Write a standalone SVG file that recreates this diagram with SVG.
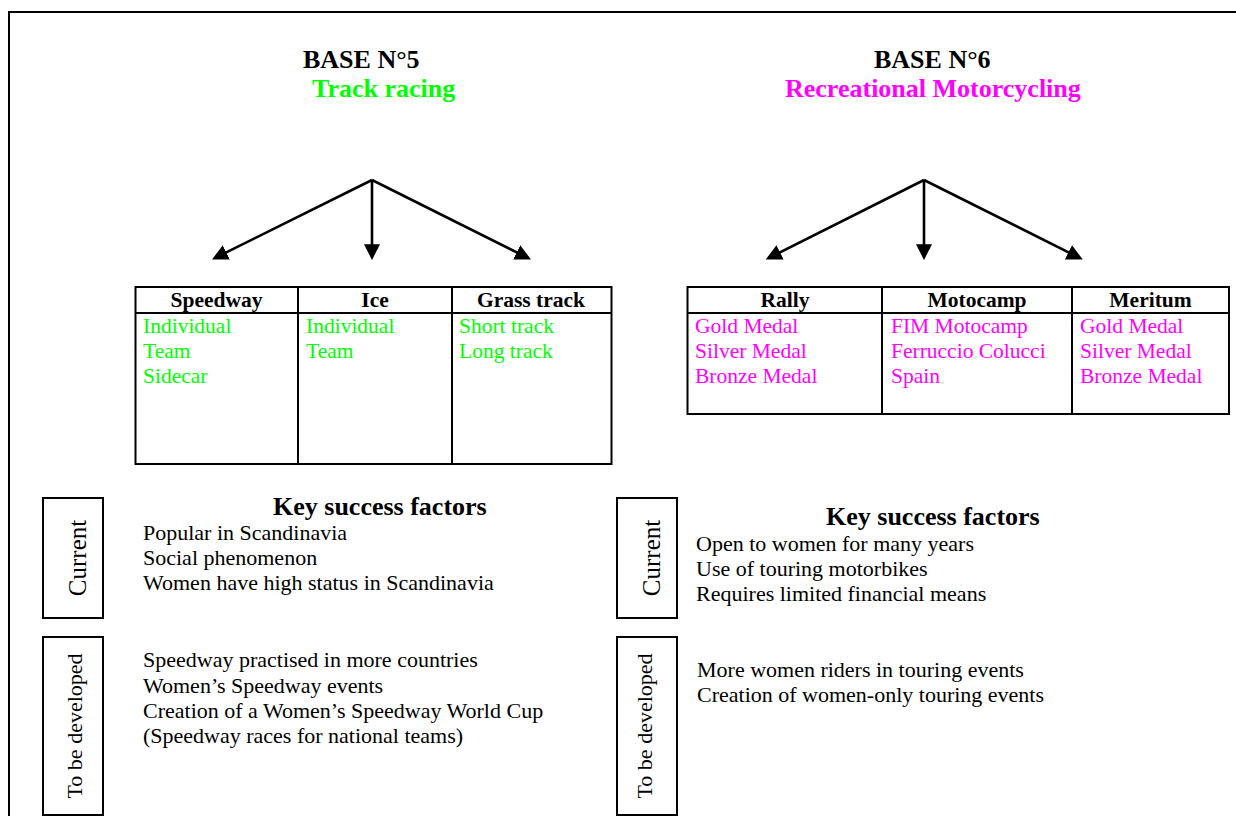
<svg xmlns="http://www.w3.org/2000/svg" width="1236" height="816" viewBox="0 0 1236 816">
<style>
text{font-family:"Liberation Serif","Times New Roman",serif;fill:#000}
.title{font-size:26px;font-weight:bold}
.hd{font-size:21.5px;font-weight:bold;text-anchor:middle}
.g{fill:#00ff00}
.m{fill:#ff00ff}
.cell{font-size:21.5px}
.ksf{font-size:26px;font-weight:bold}
.body{font-size:22px}
.box{fill:none;stroke:#000;stroke-width:2}
.tbl{fill:none;stroke:#000;stroke-width:2}
.arr{stroke:#000;stroke-width:2.6;fill:none;marker-end:url(#ah)}
</style>
<defs>
<marker id="ah" markerUnits="userSpaceOnUse" markerWidth="16" markerHeight="16" refX="6" refY="7" orient="auto" viewBox="0 0 14 14">
<path d="M0,0 L14,7 L0,14 z" fill="#000"/>
</marker>
</defs>
<rect x="9" y="12" width="1240" height="820" fill="none" stroke="#000" stroke-width="2"/>

<g id="base5-title">
<text class="title" x="303" y="68">BASE N°5</text>
<text class="title g" x="312" y="97">Track racing</text>
</g>
<g id="base6-title">
<text class="title" x="874" y="68">BASE N°6</text>
<text class="title m" x="785" y="97">Recreational Motorcycling</text>
</g>

<g id="connectors">
<line class="arr" x1="372" y1="180" x2="220.2" y2="255.4"/>
<line class="arr" x1="372" y1="180" x2="372" y2="251"/>
<line class="arr" x1="372" y1="180" x2="522.8" y2="255.4"/>
<line class="arr" x1="924" y1="180" x2="773.9" y2="255.4"/>
<line class="arr" x1="924" y1="180" x2="924" y2="251"/>
<line class="arr" x1="924" y1="180" x2="1074.6" y2="255.4"/>
</g>

<g id="table5">
<rect class="tbl" x="135.5" y="287" width="476" height="177"/>
<line class="tbl" x1="135.5" y1="313" x2="611.5" y2="313"/>
<line class="tbl" x1="298" y1="287" x2="298" y2="464"/>
<line class="tbl" x1="452" y1="287" x2="452" y2="464"/>
<text class="hd" x="216.5" y="307">Speedway</text>
<text class="hd" x="375" y="307">Ice</text>
<text class="hd" x="531" y="307">Grass track</text>
<text class="cell g" x="143" y="333">Individual</text>
<text class="cell g" x="143" y="358">Team</text>
<text class="cell g" x="143" y="383">Sidecar</text>
<text class="cell g" x="306" y="333">Individual</text>
<text class="cell g" x="306" y="358">Team</text>
<text class="cell g" x="459" y="333">Short track</text>
<text class="cell g" x="459" y="358">Long track</text>
</g>

<g id="table6">
<rect class="tbl" x="687.5" y="287" width="541.5" height="127"/>
<line class="tbl" x1="687.5" y1="313" x2="1229" y2="313"/>
<line class="tbl" x1="882" y1="287" x2="882" y2="414"/>
<line class="tbl" x1="1072" y1="287" x2="1072" y2="414"/>
<text class="hd" x="785" y="307">Rally</text>
<text class="hd" x="977" y="307">Motocamp</text>
<text class="hd" x="1150.5" y="307">Meritum</text>
<text class="cell m" x="695" y="333">Gold Medal</text>
<text class="cell m" x="695" y="358">Silver Medal</text>
<text class="cell m" x="695" y="383">Bronze Medal</text>
<text class="cell m" x="891" y="333">FIM Motocamp</text>
<text class="cell m" x="891" y="358">Ferruccio Colucci</text>
<text class="cell m" x="891" y="383">Spain</text>
<text class="cell m" x="1080" y="333">Gold Medal</text>
<text class="cell m" x="1080" y="358">Silver Medal</text>
<text class="cell m" x="1080" y="383">Bronze Medal</text>
</g>

<g id="current5">
<rect class="box" x="43" y="498" width="60" height="120"/>
<text font-size="25" text-anchor="middle" transform="translate(86,558) rotate(-90)">Current</text>
</g>
<g id="develop5">
<rect class="box" x="43" y="637" width="60" height="178"/>
<text font-size="22" text-anchor="middle" transform="translate(82,726) rotate(-90)">To be developed</text>
</g>
<g id="ksf5">
<text class="ksf" x="273" y="515">Key success factors</text>
<text class="body" x="143" y="540">Popular in Scandinavia</text>
<text class="body" x="143" y="565">Social phenomenon</text>
<text class="body" x="143" y="590">Women have high status in Scandinavia</text>
<text class="body" x="143" y="667">Speedway practised in more countries</text>
<text class="body" x="143" y="693">Women’s Speedway events</text>
<text class="body" x="143" y="718">Creation of a Women’s Speedway World Cup</text>
<text class="body" x="143" y="743">(Speedway races for national teams)</text>
</g>

<g id="current6">
<rect class="box" x="617" y="498" width="60" height="120"/>
<text font-size="25" text-anchor="middle" transform="translate(660,558) rotate(-90)">Current</text>
</g>
<g id="develop6">
<rect class="box" x="617" y="637" width="60" height="178"/>
<text font-size="22" text-anchor="middle" transform="translate(652,726) rotate(-90)">To be developed</text>
</g>
<g id="ksf6">
<text class="ksf" x="826" y="525">Key success factors</text>
<text class="body" x="696" y="551">Open to women for many years</text>
<text class="body" x="696" y="576">Use of touring motorbikes</text>
<text class="body" x="696" y="601">Requires limited financial means</text>
<text class="body" x="697" y="677">More women riders in touring events</text>
<text class="body" x="697" y="702">Creation of women-only touring events</text>
</g>
</svg>
